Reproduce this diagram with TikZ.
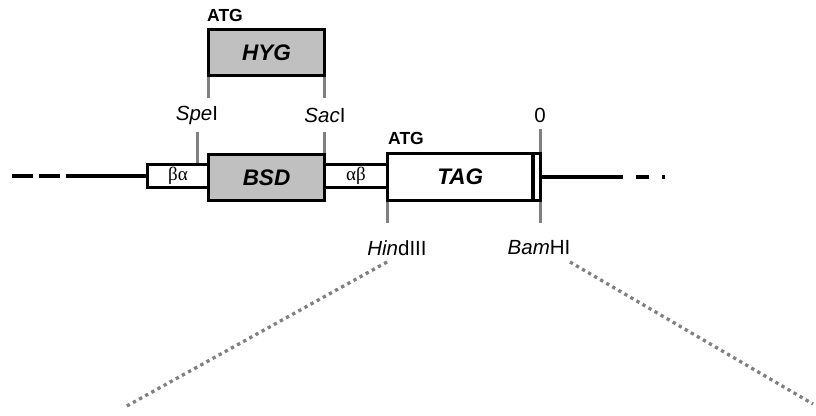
\documentclass[tikz,border=0pt]{standalone}
\usepackage{fontspec}
\setmainfont{Liberation Sans}
\newfontfamily\greekfont{Liberation Serif}
\usetikzlibrary{calc,positioning}
\definecolor{genegray}{RGB}{192,192,192}
\definecolor{sitegray}{RGB}{128,128,128}

\tikzset{
  genebox/.style={draw=black,line width=3.3pt,fill=genegray,minimum width=116pt,minimum height=46pt,inner sep=0pt,outer sep=0pt,font=\fontsize{22.5}{24}\selectfont\bfseries\itshape},
  utrbox/.style={draw=black,line width=3.3pt,fill=white,minimum height=23pt,inner sep=0pt,outer sep=0pt,font=\fontsize{19}{20}\selectfont\greekfont},
  sitetick/.style={draw=sitegray,line width=3pt},
  sitelabel/.style={font=\fontsize{20.5}{22}\selectfont,inner sep=0pt},
  atglabel/.style={font=\fontsize{17.5}{20}\selectfont\bfseries,inner sep=0pt},
  backbone/.style={line width=3.3pt},
  zoomline/.style={draw=sitegray,line width=3.3pt,dash pattern=on 3.3pt off 3.7pt}
}

\begin{document}
\begin{tikzpicture}[x=1pt,y=-1pt]
\useasboundingbox (0,0) rectangle (816,415);

% backbone
\coordinate (leftend) at (12,176);
\coordinate (rightend) at (665,177);
\draw[backbone,dash pattern=on 21pt off 6pt] (leftend) -- (67,176);
\draw[backbone,dash pattern=on 13pt off 13pt] (610,177) -- (rightend);

% restriction site ticks behind the boxes
\draw[sitetick] (540,129) -- (540,223);

% cassette
\node[genebox] (bsd) at (266.5,177.5) {BSD};
\node[utrbox,minimum width=61pt] (ba) at (178,176) {βα};
\node[utrbox,minimum width=63pt] (ab) at (356,176) {αβ};
\node[genebox,fill=white,minimum width=145.5pt,minimum height=47pt] (tag) at (460.25,177) {TAG};
\node[draw=black,line width=3.3pt,fill=white,minimum width=7.5pt,minimum height=47pt,inner sep=0pt,outer sep=0pt] (stop) at (536.75,177) {};
\node[genebox] (hyg) at (266.5,52.5) {HYG};

\draw[backbone] (67,176) -- (ba.west);
\draw[backbone] (stop.east) -- (610,177);

% ticks
\draw[sitetick] ($(hyg.south west)+(0,1.5)$) -- ++(0,21);
\draw[sitetick] ($(hyg.south east)+(0,1.5)$) -- ++(0,21);
\draw[sitetick] (197,132) -- (197,162.5);
\draw[sitetick] (324.5,132) -- ($(bsd.north east)+(0,-1.5)$);
\draw[sitetick] ($(tag.south west)+(0,1.5)$) -- (387.5,223);

% labels
\node[atglabel,anchor=west] (atg1) at (207,15) {ATG};
\node[atglabel] (atg2) at (406,138) {ATG};
\node[sitelabel] (spe) at (197,115) {\textit{Spe}I};
\node[sitelabel] (sac) at (325,115) {\textit{Sac}I};
\node[sitelabel] (zero) at (540,115) {0};
\node[sitelabel] (hind) at (397,248) {\textit{Hin}dIII};
\node[sitelabel] (bam) at (539,248) {\textit{Bam}HI};

% zoom lines
\coordinate (hindend) at (125,407);
\coordinate (bamend) at (813,404);
\draw[zoomline] (387,262) -- (hindend);
\draw[zoomline] (570,262) -- (bamend);
\end{tikzpicture}
\end{document}
